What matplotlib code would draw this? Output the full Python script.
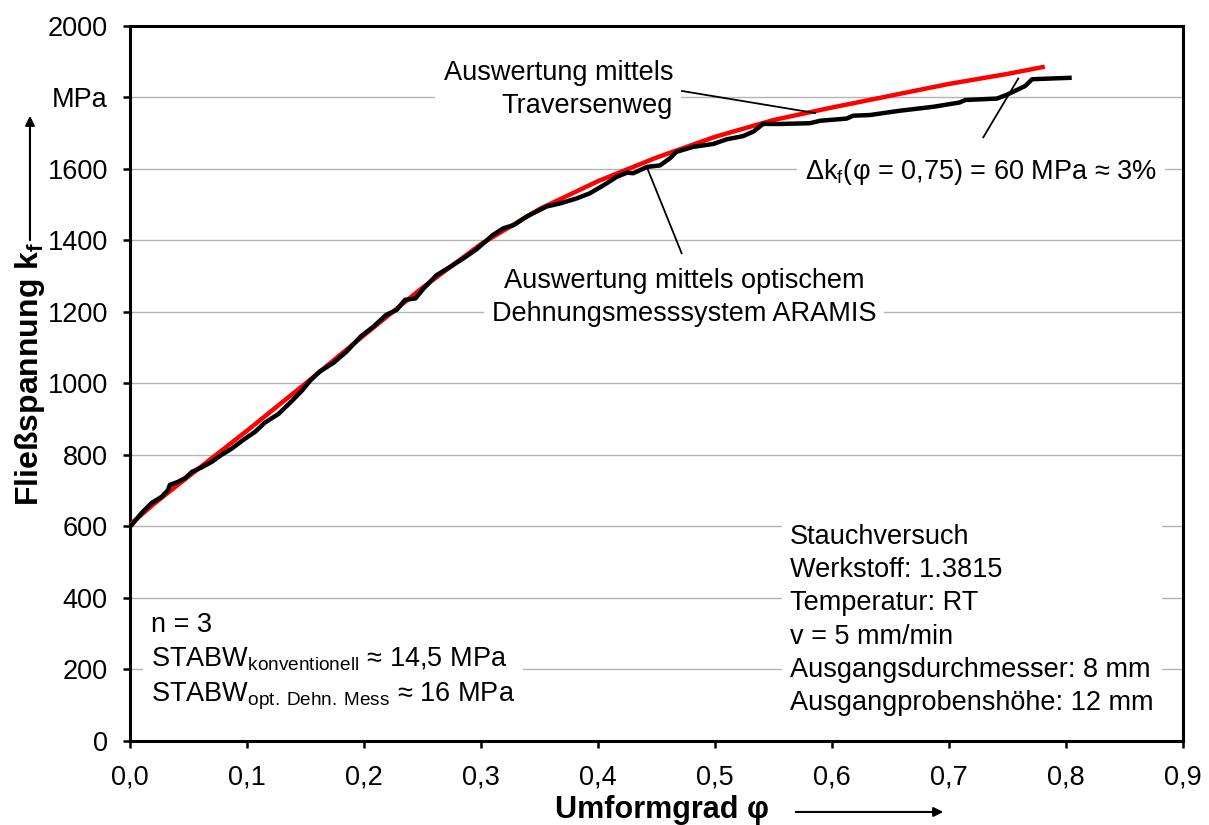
import matplotlib
matplotlib.use('Agg')
import matplotlib.pyplot as plt
from matplotlib.patches import FancyArrowPatch

plt.rcParams['font.family'] = ['Liberation Sans', 'DejaVu Sans']
plt.rcParams['mathtext.default'] = 'regular'

# --- data -------------------------------------------------------------
# conventional evaluation (crosshead travel) - red
phi_trav = [0.0, 0.02, 0.05, 0.10, 0.15, 0.20, 0.25, 0.30, 0.35, 0.40,
            0.45, 0.50, 0.55, 0.60, 0.65, 0.70, 0.75, 0.78]
kf_trav = [605, 662, 740, 868, 1000, 1135, 1268, 1390, 1488, 1566,
           1632, 1690, 1737, 1772, 1805, 1838, 1866, 1885]

# optical strain measurement (ARAMIS) - black
phi_opt = [0.0, 0.0014, 0.010, 0.0185, 0.027, 0.0325, 0.034, 0.041, 0.047, 0.053,
           0.061, 0.070, 0.078, 0.087, 0.098, 0.107, 0.115, 0.127, 0.138, 0.147,
           0.154, 0.162, 0.174, 0.185, 0.197, 0.208, 0.219, 0.228, 0.235, 0.244,
           0.251, 0.262, 0.274, 0.285, 0.296, 0.302, 0.310, 0.319, 0.328, 0.339,
           0.356, 0.368, 0.382, 0.393, 0.405, 0.416, 0.425, 0.430, 0.442, 0.453,
           0.4615, 0.467, 0.4815, 0.4985, 0.510, 0.524, 0.533, 0.541, 0.556, 0.581,
           0.590, 0.6125, 0.618, 0.6325, 0.658, 0.6866, 0.709, 0.714, 0.741, 0.749,
           0.758, 0.765, 0.771, 0.786, 0.803]
kf_opt = [600, 604, 638, 666, 683, 702, 716, 725, 735, 753,
          765, 781, 800, 818, 845, 865, 890, 915, 950, 980,
          1008, 1033, 1058, 1089, 1131, 1159, 1192, 1206, 1234, 1238,
          1266, 1303, 1327, 1350, 1375, 1392, 1415, 1434, 1443, 1467,
          1495, 1504, 1518, 1532, 1555, 1578, 1590, 1588, 1606, 1610,
          1630, 1648, 1662, 1670, 1683, 1692, 1705, 1726, 1726, 1728,
          1735, 1741, 1749, 1751, 1763, 1774, 1786, 1793, 1797, 1807,
          1821, 1832, 1851, 1853, 1855]

x_ticks = [0.0, 0.1, 0.2, 0.3, 0.4, 0.5, 0.6, 0.7, 0.8, 0.9]
x_ticklabels = ['0,0', '0,1', '0,2', '0,3', '0,4', '0,5', '0,6', '0,7', '0,8', '0,9']
y_ticks = [0, 200, 400, 600, 800, 1000, 1200, 1400, 1600, 1800, 2000]
y_ticklabels = ['0', '200', '400', '600', '800', '1000', '1200', '1400', '1600', 'MPa', '2000']

# --- figure -----------------------------------------------------------
fig = plt.figure(figsize=(12.09, 8.25), dpi=100)
ax = fig.add_axes([0.10753, 0.10182, 0.87097, 0.86667])

ax.plot(phi_trav, kf_trav, color='#ff0000', lw=3.2, zorder=3)
ax.plot(phi_opt, kf_opt, color='black', lw=3.2, zorder=4)

ax.set_xlim(0, 0.9)
ax.set_ylim(0, 2000)
ax.set_xticks(x_ticks)
ax.set_xticklabels(x_ticklabels)
ax.set_yticks(y_ticks)
ax.set_yticklabels(y_ticklabels)
ax.grid(axis='y', color='#b4b4b4', lw=1.0)
ax.set_axisbelow(True)
for s in ax.spines.values():
    s.set_linewidth(2.2)
ax.tick_params(direction='out', length=5, width=1.8, labelsize=19.5)
ax.tick_params(axis='x', pad=12)
ax.tick_params(axis='y', pad=11)

FS = 19.5
LS = 1.36
box = dict(boxstyle='square,pad=0.3', fc='white', ec='none')

ax.text(0.4641, 1756.6, 'Auswertung mittels\nTraversenweg', ha='right', va='baseline',
        multialignment='right', fontsize=FS, linespacing=LS, bbox=box, zorder=5)
ax.plot([0.4718, 0.5855], [1818.2, 1756.6], color='black', lw=1.3, zorder=6)

ax.text(0.4735, 1174.8, 'Auswertung mittels optischem\nDehnungsmesssystem ARAMIS',
        ha='center', va='baseline', multialignment='center', fontsize=FS,
        linespacing=LS, bbox=box, zorder=5)
ax.plot([0.4416, 0.4715], [1606.4, 1364.2], color='black', lw=1.3, zorder=6)

ax.text(0.5769, 1573.4, 'Δk$_{f}$(φ = 0,75) = 60 MPa ≈ 3%', ha='left', va='baseline',
        fontsize=FS, bbox=box, zorder=5)
ax.plot([0.7293, 0.7592], [1688.6, 1853.0], color='black', lw=1.3, zorder=6)

ax.text(0.5641, 86.7, 'Stauchversuch\nWerkstoff: 1.3815\nTemperatur: RT\nv = 5 mm/min\n'
        'Ausgangsdurchmesser: 8 mm\nAusgangprobenshöhe: 12 mm',
        ha='left', va='baseline', fontsize=FS, linespacing=LS, bbox=box, zorder=5)

ax.text(0.0177, 110, 'n = 3\nSTABW$_{konventionell}$ ≈ 14,5 MPa\n'
        'STABW$_{opt.\\,Dehn.\\,Mess}$ ≈ 16 MPa',
        ha='left', va='baseline', fontsize=FS, linespacing=1.36,
        bbox=dict(boxstyle='square,pad=0.3', fc='white', ec='none'), zorder=5)

# axis labels with arrows
fig.text(0.0248, 0.547, 'Fließspannung k$_{f}$', rotation=90, ha='center', va='center',
         fontsize=23, fontweight='bold')
fig.add_artist(FancyArrowPatch((0.0248, 0.7055), (0.0248, 0.863), transform=fig.transFigure,
                               arrowstyle='-|>', mutation_scale=14, lw=1.5, color='black'))
fig.text(0.5476, 0.018, 'Umformgrad φ', ha='center', va='center', fontsize=22,
         fontweight='bold')
fig.add_artist(FancyArrowPatch((0.6559, 0.0158), (0.7825, 0.0158), transform=fig.transFigure,
                               arrowstyle='-|>', mutation_scale=14, lw=1.5, color='black'))

fig.savefig('out.png', dpi=100)
